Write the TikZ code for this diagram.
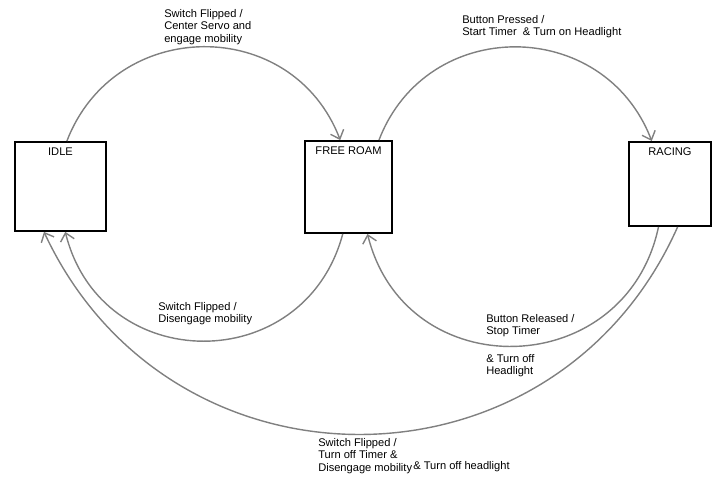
\documentclass[tikz,border=0pt]{standalone}
\usepackage{fontspec}
\setmainfont{Liberation Sans}
\usetikzlibrary{arrows.meta}
\tikzset{
    state/.style={draw=black,line width=1.4pt,fill=white,inner sep=0pt},
    state name/.style={anchor=north,inner sep=0pt,yshift=-4.5pt},
    trans/.style={draw=gray,line width=1pt,-{Straight Barb[length=5.5pt,width=10pt,line width=1pt]}},
    note/.style={anchor=north west,inner sep=0pt,align=left,font=\fontsize{7.9}{9}\selectfont},
}

\begin{document}
\begin{tikzpicture}[x=0.025cm,y=-0.025cm]
\useasboundingbox (0,0) rectangle (713,485);
% states
\node[state,minimum width=2.28cm,minimum height=2.22cm,label={[state name,font=\fontsize{7.9}{9}\selectfont]north:IDLE}] (idle) at (60.5,186.5) {};
\node[state,minimum width=2.18cm,minimum height=2.3cm,label={[state name,font=\fontsize{7.9}{9}\selectfont]north:FREE ROAM}] (roam) at (348.5,187) {};
\node[state,minimum width=2.05cm,minimum height=2.1cm,label={[state name,font=\fontsize{7.9}{9}\selectfont]north:RACING}] (racing) at (670,184) {};
% transitions
\draw[trans] (idle.82) to[out=69,in=111,looseness=1.25] (roam.100);
\draw[trans] (roam.57) to[out=69,in=111,looseness=1.25] (racing.113);
\draw[trans] (roam.263) to[out=255,in=284,looseness=1.37] (idle.276);
\draw[trans] (racing.255) to[out=258,in=284,looseness=1.39] (roam.292);
\draw[trans] (racing.280) to[out=246,in=295,looseness=1.21] (idle.250);
% labels
\node[note] (lblA) at (164,9) {Switch Flipped /\\Center Servo and\\engage mobility};
\node[note] (lblB) at (462,15) {Button Pressed /\\Start Timer\ \ \& Turn on Headlight};
\node[note] (lblC) at (158,302) {Switch Flipped /\\Disengage mobility};
\node[note] (lblD) at (486,314) {Button Released /\\Stop Timer};
\node[note] (lblE) at (486,354) {\& Turn off\\Headlight};
\node[note] (lblF) at (318,438) {Switch Flipped /\\Turn off Timer \&\\Disengage mobility};
\node[note] (lblG) at (413,461) {\& Turn off headlight};
\end{tikzpicture}
\end{document}
